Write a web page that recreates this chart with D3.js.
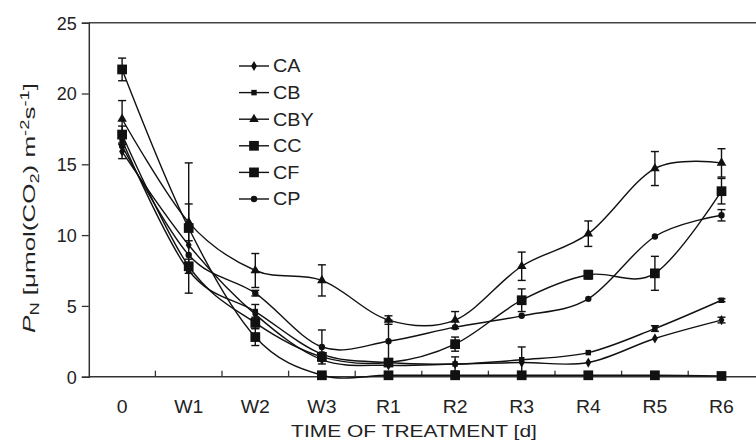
<!DOCTYPE html>
<html>
<head>
<meta charset="utf-8">
<script src="https://cdn.jsdelivr.net/npm/d3@7"></script>
<style>
  body { margin: 0; background: #fff; }
  svg { display: block; font-family: "Liberation Sans", Arial, sans-serif; }
</style>
</head>
<body>
<svg id="chart"></svg>
<script>
// data
var categories = ["0", "W1", "W2", "W3", "R1", "R2", "R3", "R4", "R5", "R6"]
var seriesNames = ["CA", "CB", "CBY", "CC", "CF", "CP"]

var CA  = [15.9, 9.3, 4.4, 1.2, 0.8, 0.9, 1.0, 1.0, 2.7, 4.0]
var CB  = [16.7, 7.5, 4.6, 1.6, 1.0, 0.9, 1.2, 1.7, 3.4, 5.4]
var CBY = [18.2, 10.9, 7.5, 6.8, 4.0, 4.0, 7.8, 10.1, 14.7, 15.1]
var CC  = [17.1, 7.8, 3.8, 1.4, 1.0, 2.3, 5.4, 7.2, 7.3, 13.1]
var CF  = [21.7, 10.5, 2.8, 0.1, 0.1, 0.1, 0.1, 0.1, 0.1, 0.05]
var CP  = [16.3, 8.6, 5.9, 2.1, 2.5, 3.5, 4.3, 5.5, 9.9, 11.4]

var CA_err  = [0.5, 0, 0, 0, 0, 0, 0, 0, 0, 0.2]
var CB_err  = [0, 0, 0.5, 0, 0, 0.5, 0.9, 0, 0.2, 0.1]
var CBY_err = [1.3, 1.3, 1.2, 1.1, 0.3, 0.6, 1.0, 0.9, 1.2, 1.0]
var CC_err  = [0.6, 0.5, 0.4, 0.3, 0.2, 0.5, 0.8, 0.3, 1.2, 0.9]
var CF_err  = [0.8, 4.6, 0.6, 0, 0, 0, 0, 0, 0, 0]
var CP_err  = [0, 0, 0.2, 1.2, 1.5, 0, 0, 0, 0, 0.4]

var yTicks = [0, 5, 10, 15, 20, 25]

var values = {CA: CA, CB: CB, CBY: CBY, CC: CC, CF: CF, CP: CP}
var errors = {CA: CA_err, CB: CB_err, CBY: CBY_err, CC: CC_err, CF: CF_err, CP: CP_err}

// marker shape + size per series
var markers = {
  CA:  {type: d3.symbolDiamond, size: 30},
  CB:  {type: d3.symbolSquare, size: 30},
  CBY: {type: d3.symbolTriangle, size: 40},
  CC:  {type: d3.symbolSquare, size: 95},
  CF:  {type: d3.symbolSquare, size: 95},
  CP:  {type: d3.symbolCircle, size: 32}
}

var width = 756
var height = 442
var plotL = 88.8, plotR = 754.8, plotT = 22.7, plotB = 376.7

var svg = d3.select("#chart")
  .attr("width", width)
  .attr("height", height)

var x = d3.scaleBand().domain(categories).range([plotL, plotR])
var y = d3.scaleLinear().domain([0, 25]).range([plotB, plotT])

var ink = "#111"

// frame: top line
svg.append("line")
  .attr("x1", plotL).attr("x2", width)
  .attr("y1", plotT).attr("y2", plotT)
  .attr("stroke", "#444").attr("stroke-width", 1.5)

// y axis
var yAxis = svg.append("g")
  .attr("transform", "translate(" + plotL + ",0)")
  .call(d3.axisLeft(y).tickValues(yTicks).tickSize(7).tickPadding(5))
yAxis.select(".domain").attr("stroke", "#333").attr("stroke-width", 1.5)
yAxis.selectAll(".tick line").attr("stroke", "#333").attr("stroke-width", 1.3)
yAxis.selectAll(".tick text")
  .attr("fill", "#222")
  .style("font-size", "18px")
  .attr("dy", "0.36em")

// x axis: inner ticks at category boundaries
var xAxis = svg.append("g")
  .attr("transform", "translate(0," + plotB + ")")
  .call(d3.axisBottom(x).tickSize(0).tickPadding(24))
xAxis.select(".domain").attr("d", "M" + plotL + ",0H" + width)
  .attr("stroke", "#333").attr("stroke-width", 1.5)
xAxis.selectAll(".tick text")
  .attr("fill", "#222")
  .style("font-size", "18px")
  .attr("transform", "scale(1.08,1)")
svg.append("g").selectAll("line")
  .data(categories.slice(1))
  .enter().append("line")
  .attr("x1", d => x(d)).attr("x2", d => x(d))
  .attr("y1", plotB).attr("y2", plotB - 6)
  .attr("stroke", "#333").attr("stroke-width", 1.3)

// lines
var line = d3.line()
  .x((d, i) => x(categories[i]) + x.bandwidth() / 2)
  .y(d => y(d))
  .curve(d3.curveCardinal.tension(0))

seriesNames.forEach(function(name) {
  svg.append("path")
    .datum(values[name])
    .attr("d", line)
    .attr("fill", "none")
    .attr("stroke", ink)
    .attr("stroke-width", 1.4)
})

// error bars
seriesNames.forEach(function(name) {
  var g = svg.append("g").attr("stroke", ink).attr("stroke-width", 1.4)
  values[name].forEach(function(v, i) {
    var e = errors[name][i]
    if (!e) return
    var cx = x(categories[i]) + x.bandwidth() / 2
    g.append("line").attr("x1", cx).attr("x2", cx).attr("y1", y(v - e)).attr("y2", y(v + e))
    g.append("line").attr("x1", cx - 4).attr("x2", cx + 4).attr("y1", y(v + e)).attr("y2", y(v + e))
    g.append("line").attr("x1", cx - 4).attr("x2", cx + 4).attr("y1", y(v - e)).attr("y2", y(v - e))
  })
})

// markers
seriesNames.forEach(function(name) {
  var m = markers[name]
  svg.append("g").selectAll("path")
    .data(values[name])
    .enter().append("path")
    .attr("d", d3.symbol().type(m.type).size(m.size))
    .attr("transform", (d, i) => "translate(" + (x(categories[i]) + x.bandwidth() / 2) + "," + y(d) + ")")
    .attr("fill", ink)
})

// legend
var legend = svg.append("g")
seriesNames.forEach(function(name, i) {
  var ly = 66 + i * 26.6
  var m = markers[name]
  legend.append("line")
    .attr("x1", 239).attr("x2", 269).attr("y1", ly).attr("y2", ly)
    .attr("stroke", ink).attr("stroke-width", 1.4)
  legend.append("path")
    .attr("d", d3.symbol().type(m.type).size(m.size))
    .attr("transform", "translate(254," + ly + ")")
    .attr("fill", ink)
  legend.append("text")
    .attr("transform", "translate(273," + ly + ") scale(1.1,1)")
    .attr("dy", "0.36em")
    .style("font-size", "18px")
    .attr("fill", "#222")
    .text(name)
})

// axis titles, stretched to the span they take in the figure
function stretch(sel, cx, cy, target, rot) {
  var w = sel.node().getComputedTextLength()
  sel.attr("transform", "translate(" + cx + "," + cy + ") rotate(" + rot + ") scale(" + (target / w) + ",1)")
}

var xt = svg.append("text")
  .attr("text-anchor", "middle")
  .attr("dy", "0.36em")
  .style("font-size", "16px")
  .attr("fill", "#222")
  .text("TIME OF TREATMENT [d]")
stretch(xt, 414, 431, 246, 0)

var yt = svg.append("text")
  .attr("text-anchor", "middle")
  .attr("dy", "0.36em")
  .style("font-size", "17px")
  .attr("fill", "#222")
yt.append("tspan").style("font-style", "italic").text("P")
yt.append("tspan").attr("dy", "4").style("font-size", "12px").text("N")
yt.append("tspan").attr("dy", "-4").text(" [\u03bcmol(CO")
yt.append("tspan").attr("dy", "4").style("font-size", "12px").text("2")
yt.append("tspan").attr("dy", "-4").text(") m")
yt.append("tspan").attr("dy", "-6").style("font-size", "12px").text("-2")
yt.append("tspan").attr("dy", "6").text("s")
yt.append("tspan").attr("dy", "-6").style("font-size", "12px").text("-1")
yt.append("tspan").attr("dy", "6").text("]")
stretch(yt, 29, 208, 250, -90)
</script>
</body>
</html>
